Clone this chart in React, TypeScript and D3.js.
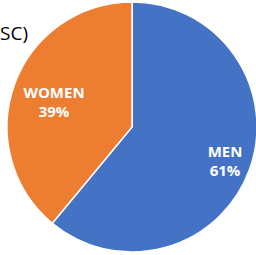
import React from "react";
import * as d3 from "d3";

const categories = ["MEN", "WOMEN"];
const values = [61, 39];
const colors = ["#4472C4", "#ED7D31"];
const titleFragment = "SC)";

export default function App() {
  const W = 256, H = 255;
  const cx = 132, cy = 127, r = 125;
  const pie = d3.pie<number>().sort(null).value((d) => d)(values);
  const arc = d3.arc<d3.PieArcDatum<number>>().innerRadius(0).outerRadius(r);
  const labelPos = [
    [93, 30],
    [-78, -29],
  ];
  return (
    <svg width={W} height={H} style={{ position: "absolute", left: 0, top: 0 }}>
      <rect width={W} height={H} fill="#fff" />
      <text x={0} y={40} textAnchor="start" fontFamily="Open Sans" fontSize={19} fill="#000">{titleFragment}</text>
      <g transform={`translate(${cx},${cy})`}>
        {pie.map((p, i) => (
          <path key={i} d={arc(p) || ""} fill={colors[i]} stroke="#fff" strokeWidth={1.5} />
        ))}
        {pie.map((p, i) => (
          <text key={"t" + i} x={labelPos[i][0]} textAnchor="middle" fontFamily="Open Sans" fontWeight="bold" fontSize={15} fill="#fff">
            <tspan x={labelPos[i][0]} y={labelPos[i][1]}>{categories[i]}</tspan>
            <tspan x={labelPos[i][0]} y={labelPos[i][1] + 19}>{values[i]}%</tspan>
          </text>
        ))}
      </g>
    </svg>
  );
}
